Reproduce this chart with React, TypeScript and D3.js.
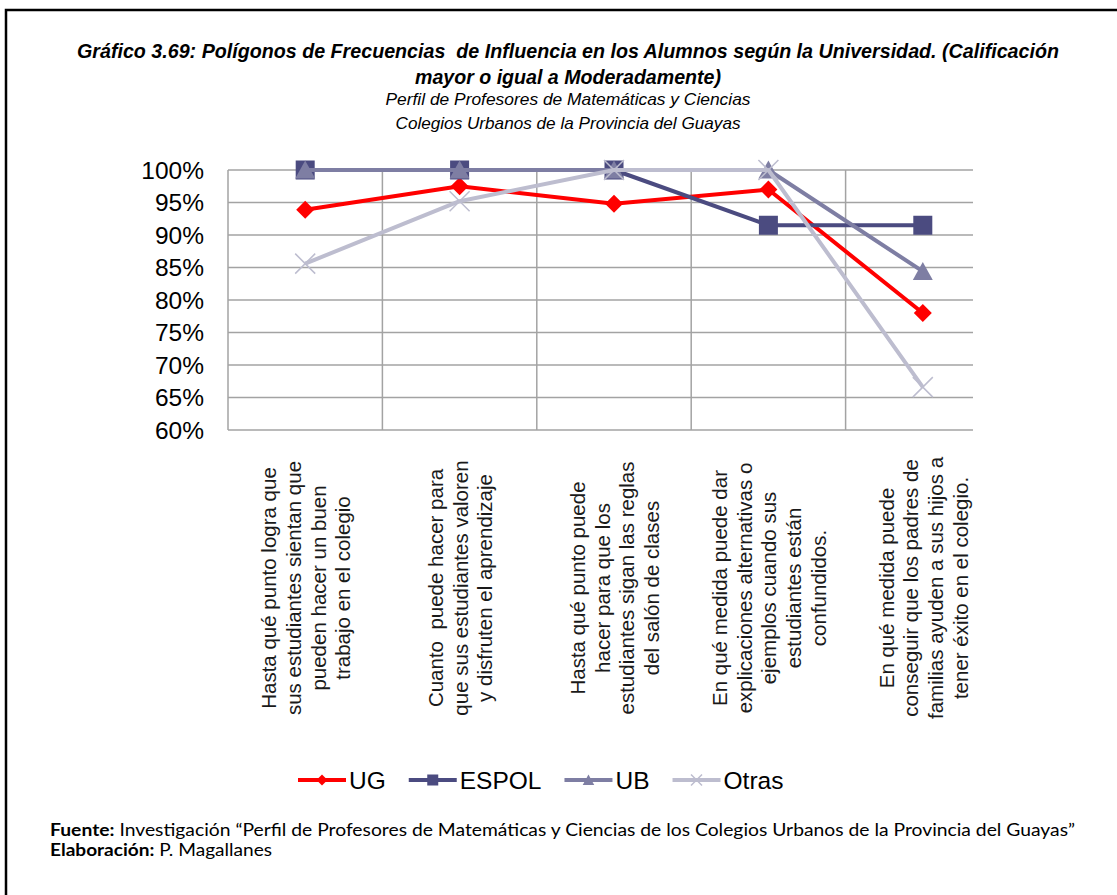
import React, { useEffect, useRef } from "react";
import * as d3 from "d3";

// ---------- data ----------
const categories: string[][] = [
  ["Hasta qué punto logra que", "sus estudiantes sientan que", "pueden hacer un buen", "trabajo en el colegio"],
  ["Cuanto  puede hacer para", "que sus estudiantes valoren", "y disfruten el aprendizaje"],
  ["Hasta qué punto puede", "hacer para que los", "estudiantes sigan las reglas", "del salón de clases"],
  ["En qué medida puede dar", "explicaciones alternativas o", "ejemplos cuando sus", "estudiantes están", "confundidos."],
  ["En qué medida puede", "conseguir que los padres de", "familias ayuden a sus hijos a", "tener éxito en el colegio."],
];
const seriesNames = ["UG", "ESPOL", "UB", "Otras"];
const ugValues = [93.9, 97.5, 94.8, 97.0, 78.0];
const espolValues = [100, 100, 100, 91.5, 91.5];
const ubValues = [100, 100, 100, 100, 84.4];
const otrasValues = [85.6, 95.2, 100, 100, 66.6];
const yTickValues = [60, 65, 70, 75, 80, 85, 90, 95, 100];

const titleLines = [
  "Gráfico 3.69: Polígonos de Frecuencias  de Influencia en los Alumnos según la Universidad. (Calificación",
  "mayor o igual a Moderadamente)",
];
const subtitleLines = [
  "Perfil de Profesores de Matemáticas y Ciencias",
  "Colegios Urbanos de la Provincia del Guayas",
];
const footerBold = ["Fuente:", "Elaboración:"];
const footerText = [
  " Investigación “Perfil de Profesores de Matemáticas y Ciencias de los Colegios Urbanos de la Provincia del Guayas”",
  " P. Magallanes",
];

// ---------- styles ----------
const seriesStyles = [
  { color: "#FF0000", marker: "diamond" },
  { color: "#4B4B80", marker: "square" },
  { color: "#7E7EA3", marker: "triangle" },
  { color: "#BDBDCF", marker: "x" },
];

const FONT = "'Liberation Sans', Arial, sans-serif";

function drawMarker(g: any, type: string, cx: number, cy: number, s: number, color: string) {
  if (type === "diamond") {
    g.append("path")
      .attr("d", `M${cx},${cy - s} L${cx + s},${cy} L${cx},${cy + s} L${cx - s},${cy} Z`)
      .attr("fill", color);
  } else if (type === "square") {
    g.append("rect")
      .attr("x", cx - s)
      .attr("y", cy - s)
      .attr("width", 2 * s)
      .attr("height", 2 * s)
      .attr("fill", color);
  } else if (type === "triangle") {
    g.append("path")
      .attr("d", `M${cx},${cy - s} L${cx + s * 1.05},${cy + s * 0.9} L${cx - s * 1.05},${cy + s * 0.9} Z`)
      .attr("fill", color);
  } else {
    g.append("path")
      .attr("d", `M${cx - s},${cy - s} L${cx + s},${cy + s} M${cx - s},${cy + s} L${cx + s},${cy - s}`)
      .attr("stroke", color)
      .attr("stroke-width", 1.5)
      .attr("fill", "none");
  }
}

export default function App() {
  const ref = useRef<SVGSVGElement>(null);

  useEffect(() => {
    const svg = d3.select(ref.current);
    svg.selectAll("*").remove();

    const W = 1117;
    const H = 895;
    svg.append("rect").attr("width", W).attr("height", H).attr("fill", "#fff");

    // frame
    svg
      .append("path")
      .attr("d", `M6,${H} L6,10 L${W},10`)
      .attr("fill", "none")
      .attr("stroke", "#000")
      .attr("stroke-width", 2.5);

    // titles
    const cxTitle = 568;
    const titleY = [58, 84];
    const titleLen = [982, 306];
    titleLines.forEach((t, i) => {
      svg
        .append("text")
        .attr("x", cxTitle)
        .attr("y", titleY[i])
        .attr("text-anchor", "middle")
        .attr("font-family", FONT)
        .attr("font-size", 19.5)
        .attr("font-weight", "bold")
        .attr("font-style", "italic")
        .attr("textLength", titleLen[i])
        .attr("lengthAdjust", "spacingAndGlyphs")
        .style("white-space", "pre")
        .text(t);
    });
    const subY = [105, 129];
    const subLen = [365, 345];
    subtitleLines.forEach((t, i) => {
      svg
        .append("text")
        .attr("x", cxTitle)
        .attr("y", subY[i])
        .attr("text-anchor", "middle")
        .attr("font-family", FONT)
        .attr("font-size", 16.5)
        .attr("font-style", "italic")
        .attr("textLength", subLen[i])
        .attr("lengthAdjust", "spacingAndGlyphs")
        .text(t);
    });

    // scales
    const left = 228;
    const right = 1000;
    const top = 170;
    const bottom = 430;
    const gridEnd = 973;
    const catIdx = categories.map((_, i) => String(i));
    const x = d3.scaleBand().domain(catIdx).range([left, right]).padding(0);
    const y = d3.scaleLinear().domain([60, 100]).range([bottom, top]);
    const cx = (i: number) => (x(String(i)) as number) + x.bandwidth() / 2;

    const grid = svg.append("g");
    yTickValues.forEach((v) => {
      grid
        .append("line")
        .attr("x1", left)
        .attr("x2", gridEnd)
        .attr("y1", y(v))
        .attr("y2", y(v))
        .attr("stroke", "#A3A3A3")
        .attr("stroke-width", 1.5);
    });
    catIdx.forEach((c) => {
      const xv = x(c) as number;
      grid
        .append("line")
        .attr("x1", xv)
        .attr("x2", xv)
        .attr("y1", top)
        .attr("y2", bottom)
        .attr("stroke", "#A3A3A3")
        .attr("stroke-width", 1.5);
    });

    // y tick labels
    yTickValues.forEach((v) => {
      svg
        .append("text")
        .attr("x", 204)
        .attr("y", y(v))
        .attr("dy", "0.35em")
        .attr("text-anchor", "end")
        .attr("font-family", FONT)
        .attr("font-size", 24.5)
        .attr("fill", "#000")
        .text(`${v}%`);
    });

    // category labels
    const lh = 24.7;
    categories.forEach((lines, i) => {
      const n = lines.length;
      lines.forEach((ln, j) => {
        const bx = cx(i) + (j - (n - 1) / 2) * lh + 8;
        svg
          .append("text")
          .attr("transform", `translate(${bx},588) rotate(-90)`)
          .attr("text-anchor", "middle")
          .attr("font-family", FONT)
          .attr("font-size", 20.5)
          .attr("fill", "#1a1a1a")
          .style("white-space", "pre")
          .text(ln);
      });
    });

    // series
    const allValues = [ugValues, espolValues, ubValues, otrasValues];
    const lineGen = d3
      .line<number>()
      .x((_, i) => cx(i))
      .y((d) => y(d));
    const markerSize = [9, 9.5, 9.5, 10];
    allValues.forEach((vals, si) => {
      const st = seriesStyles[si];
      const g = svg.append("g");
      g.append("path")
        .attr("d", lineGen(vals) as string)
        .attr("fill", "none")
        .attr("stroke", st.color)
        .attr("stroke-width", 4)
        .attr("stroke-linejoin", "round");
      vals.forEach((v, i) => drawMarker(g, st.marker, cx(i), y(v), markerSize[si], st.color));
    });

    // legend
    const legY = 780;
    let lx = 298;
    const leg = svg.append("g");
    seriesNames.forEach((name, si) => {
      const st = seriesStyles[si];
      leg
        .append("line")
        .attr("x1", lx)
        .attr("x2", lx + 48)
        .attr("y1", legY)
        .attr("y2", legY)
        .attr("stroke", st.color)
        .attr("stroke-width", 4);
      drawMarker(leg, st.marker, lx + 24, legY, 5.5, st.color);
      const t = leg
        .append("text")
        .attr("x", lx + 51)
        .attr("y", legY)
        .attr("dy", "0.35em")
        .attr("font-family", FONT)
        .attr("font-size", 24.5)
        .attr("fill", "#000")
        .text(name);
      const w = (t.node() as SVGTextElement).getComputedTextLength();
      lx = lx + 51 + w + 23;
    });

    // footer
    const footY = [836, 855.5];
    const footLen = [1025, 222];
    footerBold.forEach((b, i) => {
      const t = svg
        .append("text")
        .attr("x", 50)
        .attr("y", footY[i])
        .attr("font-family", "Lato, 'Open Sans', sans-serif")
        .attr("font-size", 16.5)
        .attr("fill", "#000")
        .attr("textLength", footLen[i])
        .attr("lengthAdjust", "spacingAndGlyphs")
        .style("white-space", "pre");
      t.append("tspan").attr("font-weight", "bold").text(b);
      t.append("tspan").text(footerText[i]);
    });
  }, []);

  return (
    <svg
      ref={ref}
      width={1117}
      height={895}
      style={{ position: "absolute", left: 0, top: 0, display: "block" }}
    />
  );
}
